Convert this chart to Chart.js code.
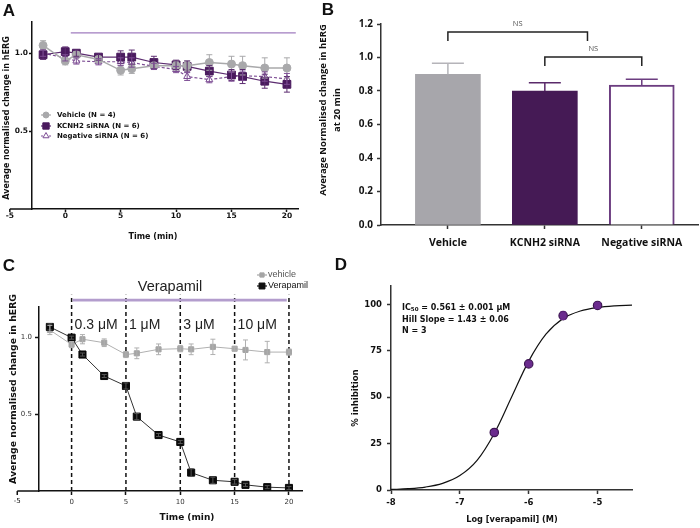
<!DOCTYPE html>
<html>
<head>
<meta charset="utf-8">
<title>hERG knockdown and verapamil block</title>
<script src="https://cdn.jsdelivr.net/npm/chart.js@4.4.1/dist/chart.umd.min.js"></script>
<style>
  body { margin: 0; background: #fff; }
  #fig { position: relative; width: 700px; height: 528px; overflow: hidden; }
  #fig canvas { position: absolute; left: 0; top: 0; }
</style>
</head>
<body>
<div id="fig">
  <canvas id="chartA" width="700" height="528"></canvas>
  <canvas id="chartB" width="700" height="528"></canvas>
  <canvas id="chartC" width="700" height="528"></canvas>
  <canvas id="chartD" width="700" height="528"></canvas>
</div>
<script>
// ---- panel A: siRNA time course ----
var timeA = [-2, 0, 1, 3, 5, 6, 8, 10, 11, 13, 15, 16, 18, 20];
var vehicleA = [1.05, 0.95, 0.99, 0.96, 0.89, 0.90, 0.92, 0.92, 0.92, 0.94, 0.93, 0.92, 0.905, 0.905];
var vehicleAErr = [0.03, 0.025, 0.02, 0.02, 0.03, 0.03, 0.02, 0.03, 0.03, 0.05, 0.05, 0.06, 0.065, 0.065];
var kcnh2A = [0.99, 1.01, 1.00, 0.975, 0.975, 0.975, 0.94, 0.925, 0.915, 0.885, 0.86, 0.85, 0.82, 0.80];
var kcnh2AErr = [0.03, 0.03, 0.02, 0.02, 0.04, 0.045, 0.04, 0.03, 0.035, 0.035, 0.035, 0.045, 0.045, 0.05];
var negativeA = [1.0, 0.97, 0.95, 0.945, 0.945, 0.94, 0.915, 0.895, 0.85, 0.83, 0.85, 0.855, 0.85, 0.835];
var negativeAErr = [0.02, 0.02, 0.02, 0.02, 0.025, 0.03, 0.02, 0.02, 0.025, 0.02, 0.03, 0.03, 0.03, 0.035];
var drugBarA = { from: 0.5, to: 20.8, y: 1.13 };

// ---- panel B: value at 20 min ----
var groupsB = ['Vehicle', 'KCNH2 siRNA', 'Negative siRNA'];
var meansB = [0.90, 0.80, 0.835];
var errB = [0.065, 0.05, 0.035];
var bracketsB = [
  { from: 0, to: 1.44, y: 1.152, leg: 1.098, label: 'NS' },
  { from: 1, to: 2, y: 1.003, leg: 0.95, label: 'NS' }
];

// ---- panel C: verapamil cumulative block ----
var timeC = [-2, 0, 1, 3, 5, 6, 8, 10, 11, 13, 15, 16, 18, 20];
var vehicleC = [1.05, 0.955, 0.99, 0.967, 0.89, 0.898, 0.924, 0.928, 0.924, 0.94, 0.928, 0.92, 0.906, 0.906];
var vehicleCErr = [0.03, 0.02, 0.03, 0.025, 0.02, 0.035, 0.035, 0.02, 0.035, 0.05, 0.01, 0.065, 0.07, 0.02];
var verapamilC = [1.07, 1.00, 0.89, 0.75, 0.685, 0.485, 0.365, 0.32, 0.12, 0.07, 0.06, 0.04, 0.025, 0.02];
var verapamilCErr = [0.02, 0.01, 0.01, 0.01, 0.02, 0.02, 0.01, 0.01, 0.025, 0.02, 0.015, 0.01, 0.01, 0.01];
var doseEdges = [0, 5, 10, 15, 20];
var doseLabels = ['0.3 \u03bcM', '1 \u03bcM', '3 \u03bcM', '10 \u03bcM'];
var drugBarC = { from: 0.1, to: 19.8, y: 1.245 };

// ---- panel D: concentration response ----
var logConc = [-6.5, -6, -5.5, -5];
var inhibition = [31, 68, 94, 99.5];
var inhibitionErr = [1, 1, 2, 1.5];
var fitX = [-8, -7.75, -7.5, -7.25, -7, -6.75, -6.5, -6.25, -6, -5.75, -5.5, -5.25, -5, -4.75, -4.5];
var fitY = [0.3, 0.7, 1.6, 3.6, 7.8, 16, 30.5, 50, 69.5, 84, 92.5, 96.5, 98.4, 99.3, 99.7];

var GP = '"DejaVu Sans"';
var ARIAL = '"Liberation Sans"';

function pts(xs, ys) {
  return xs.map(function (x, i) { return { x: x, y: ys[i] }; });
}

// padding that puts the plot area at L,T,R,B on the 700x528 page
function frame(L, T, R, B, yW, xH) {
  return { left: L - yW, top: T, right: 700 - R, bottom: 528 - B - xH };
}

function axis(o) {
  return {
    type: 'linear', min: o.min, max: o.max, offset: false,
    afterBuildTicks: function (s) { s.ticks = o.ticks.map(function (v) { return { value: v }; }); },
    afterFit: function (s) { if (s.isHorizontal()) s.height = o.size; else s.width = o.size; },
    border: { display: true, color: o.color, width: 1.5 },
    grid: { display: true, offset: false, drawOnChartArea: false, drawTicks: true, tickLength: o.tick, tickWidth: 1.5, tickColor: o.color },
    ticks: {
      autoSkip: false, maxRotation: 0, padding: o.pad, color: o.labelColor || o.color, font: o.font,
      callback: o.fmt || function (v) { return v; }
    }
  };
}

function baseOptions(padding, scales) {
  return {
    responsive: false,
    devicePixelRatio: 1,
    animation: false,
    layout: { padding: padding },
    plugins: { legend: { display: false }, tooltip: { enabled: false } },
    scales: scales
  };
}

// error bars from dataset.errors
var errorBars = {
  id: 'errorBars',
  afterDatasetsDraw: function (chart) {
    var ctx = chart.ctx;
    chart.data.datasets.forEach(function (ds, i) {
      if (!ds.errors) return;
      var meta = chart.getDatasetMeta(i);
      var ys = chart.scales[meta.yAxisID];
      ctx.save();
      ctx.lineWidth = ds.errorWidth || 1;
      meta.data.forEach(function (el, j) {
        var v = ds.data[j];
        v = typeof v === 'object' ? v.y : v;
        var e = ds.errors[j];
        var top = ys.getPixelForValue(v + e);
        var bot = ys.getPixelForValue(ds.upperOnly ? v : v - e);
        var c = ds.capWidth / 2;
        ctx.strokeStyle = Array.isArray(ds.errorColor) ? ds.errorColor[j] : ds.errorColor;
        ctx.beginPath();
        ctx.moveTo(el.x, top); ctx.lineTo(el.x, bot);
        ctx.moveTo(el.x - c, top); ctx.lineTo(el.x + c, top);
        if (!ds.upperOnly) { ctx.moveTo(el.x - c, bot); ctx.lineTo(el.x + c, bot); }
        ctx.stroke();
      });
      ctx.restore();
    });
  }
};

function textLayer(items) {
  return {
    id: 'textLayer',
    afterDraw: function (chart) {
      var ctx = chart.ctx;
      items.forEach(function (t) {
        ctx.save();
        ctx.font = t.font;
        ctx.fillStyle = t.color || '#111';
        ctx.textAlign = t.align || 'center';
        ctx.textBaseline = 'middle';
        ctx.translate(t.x, t.y);
        if (t.rotate) ctx.rotate(t.rotate * Math.PI / 180);
        ctx.fillText(t.text, 0, 0);
        ctx.restore();
      });
    }
  };
}

function marker(ctx, m, x, y) {
  ctx.fillStyle = m.fill;
  ctx.strokeStyle = m.stroke || m.fill;
  ctx.lineWidth = 1;
  Chart.helpers.drawPoint(ctx, { pointStyle: m.style, radius: m.r, borderWidth: 1, rotation: 0 }, x, y);
}

function legendLayer(mx, tx, font, entries) {
  return {
    id: 'legendLayer',
    afterDraw: function (chart) {
      var ctx = chart.ctx;
      entries.forEach(function (e) {
        ctx.save();
        ctx.strokeStyle = e.line;
        ctx.lineWidth = 1.2;
        ctx.setLineDash(e.dash || []);
        ctx.beginPath(); ctx.moveTo(mx - 5, e.y); ctx.lineTo(mx + 5, e.y); ctx.stroke();
        ctx.setLineDash([]);
        marker(ctx, e, mx, e.y);
        ctx.font = font;
        ctx.fillStyle = e.color || '#111';
        ctx.textAlign = 'left';
        ctx.textBaseline = 'middle';
        ctx.fillText(e.text, tx, e.y);
        ctx.restore();
      });
    }
  };
}

// x axis continues left of the y axis to -5
function axisStub(value, label, font, color, tick, pad) {
  return {
    id: 'axisStub',
    afterDraw: function (chart) {
      var xs = chart.scales.x, area = chart.chartArea, ctx = chart.ctx;
      var px = xs.getPixelForValue(value);
      ctx.save();
      ctx.strokeStyle = color; ctx.lineWidth = 1.5;
      ctx.beginPath();
      ctx.moveTo(px, area.bottom); ctx.lineTo(area.left, area.bottom);
      ctx.moveTo(px, area.bottom); ctx.lineTo(px, area.bottom + tick);
      ctx.stroke();
      ctx.font = font; ctx.fillStyle = color;
      ctx.textAlign = 'center'; ctx.textBaseline = 'top';
      ctx.fillText(label, px, area.bottom + tick + pad);
      ctx.restore();
    }
  };
}

function drugBar(bar, color, width) {
  return {
    id: 'drugBar',
    afterDraw: function (chart) {
      var xs = chart.scales.x, ys = chart.scales.y, ctx = chart.ctx;
      var py = ys.getPixelForValue(bar.y);
      ctx.save();
      ctx.strokeStyle = color; ctx.lineWidth = width;
      ctx.beginPath();
      ctx.moveTo(xs.getPixelForValue(bar.from), py);
      ctx.lineTo(xs.getPixelForValue(bar.to), py);
      ctx.stroke();
      ctx.restore();
    }
  };
}

// ================= A =================
new Chart(document.getElementById('chartA'), {
  type: 'line',
  data: {
    datasets: [
      {
        label: 'Vehicle (N = 4)', data: pts(timeA, vehicleA),
        borderColor: '#a9a9ab', backgroundColor: '#a9a9ab', borderWidth: 1.5,
        pointStyle: 'circle', pointRadius: 4, pointBorderWidth: 1,
        errors: vehicleAErr, errorColor: '#a9a9ab', capWidth: 6
      },
      {
        label: 'KCNH2 siRNA (N = 6)', data: pts(timeA, kcnh2A),
        borderColor: '#5c2c70', backgroundColor: '#4a1a5e', borderWidth: 1.2,
        pointStyle: 'rect', pointRadius: 5.5, pointBorderWidth: 1, pointBorderColor: '#4a1a5e',
        errors: kcnh2AErr, errorColor: '#5c2c70', capWidth: 6
      },
      {
        label: 'Negative siRNA (N = 6)', data: pts(timeA, negativeA),
        borderColor: '#7d4d94', backgroundColor: '#ffffff', borderWidth: 1.2, borderDash: [3, 2],
        pointStyle: 'triangle', pointRadius: 4, pointBorderWidth: 1, pointBorderColor: '#7d4d94',
        errors: negativeAErr, errorColor: '#7d4d94', capWidth: 6
      }
    ]
  },
  options: baseOptions(frame(32, 22, 298, 209, 31, 30), {
    x: axis({ min: -3, max: 21, ticks: [0, 5, 10, 15, 20], size: 30, color: '#111', tick: 3, pad: 0,
      font: { family: GP, weight: 'bold', size: 7.5 } }),
    y: axis({ min: 0, max: 1.2, ticks: [0.5, 1.0], size: 31, color: '#111', tick: 3, pad: 1,
      font: { family: GP, weight: 'bold', size: 7.5 }, fmt: function (v) { return v.toFixed(1); } })
  }),
  plugins: [
    errorBars,
    axisStub(-5, '-5', 'bold 7.5px ' + GP, '#111', 3, 0),
    drugBar(drugBarA, '#a07cbf', 1.4),
    legendLayer(46, 57, 'bold 7px ' + GP, [
      { y: 115, text: 'Vehicle (N = 4)', style: 'circle', r: 3, fill: '#a9a9ab', line: '#a9a9ab' },
      { y: 126, text: 'KCNH2 siRNA (N = 6)', style: 'rect', r: 4.5, fill: '#4a1a5e', line: '#5c2c70' },
      { y: 136, text: 'Negative siRNA (N = 6)', style: 'triangle', r: 3.5, fill: '#ffffff', stroke: '#7d4d94', line: '#7d4d94', dash: [2, 2] }
    ]),
    textLayer([
      { text: 'A', x: 9, y: 11, font: 'bold 17px ' + ARIAL },
      { text: 'Average normalised change in hERG', x: 7, y: 118, rotate: -90, font: 'bold 8px ' + GP },
      { text: 'Time (min)', x: 153, y: 237, font: 'bold 8px ' + GP }
    ])
  ]
});

// ================= B =================
var bracketLayer = {
  id: 'brackets',
  afterDraw: function (chart) {
    var xs = chart.scales.x, ys = chart.scales.y, ctx = chart.ctx;
    ctx.save();
    bracketsB.forEach(function (b) {
      var x1 = xs.getPixelForValue(b.from), x2 = xs.getPixelForValue(b.to);
      var y = ys.getPixelForValue(b.y), yl = ys.getPixelForValue(b.leg);
      ctx.strokeStyle = '#222'; ctx.lineWidth = 1.5;
      ctx.beginPath();
      ctx.moveTo(x1, yl); ctx.lineTo(x1, y); ctx.lineTo(x2, y); ctx.lineTo(x2, yl);
      ctx.stroke();
      ctx.font = '7.5px "Open Sans"'; ctx.fillStyle = '#555';
      ctx.textAlign = 'center'; ctx.textBaseline = 'middle';
      ctx.fillText(b.label, (x1 + x2) / 2, y - 8);
    });
    ctx.restore();
  }
};

new Chart(document.getElementById('chartB'), {
  type: 'bar',
  data: {
    datasets: [{
      data: pts([0, 1, 2], meansB),
      backgroundColor: ['#a7a6ab', '#451a55', '#ffffff'],
      borderColor: ['#a7a6ab', '#451a55', '#6c3d80'],
      borderWidth: [0, 0, 2],
      barThickness: 65,
      errors: errB, upperOnly: true, errorColor: ['#b5b4b9', '#5a2a6a', '#6c3d80'], errorWidth: 1.5, capWidth: 32
    }]
  },
  options: baseOptions(frame(381, 24, 698, 225, 40, 30), {
    x: axis({ min: -0.69, max: 2.58, ticks: [0, 1, 2], size: 30, color: '#333', labelColor: '#111', tick: 4, pad: 8,
      font: { family: 'Open Sans', weight: 'bold', size: 10.5 }, fmt: function (v) { return groupsB[v]; } }),
    y: axis({ min: 0, max: 1.2, ticks: [0, 0.2, 0.4, 0.6, 0.8, 1.0, 1.2], size: 40, color: '#333', labelColor: '#111', tick: 4, pad: 4,
      font: { family: 'Open Sans', weight: 'bold', size: 10 }, fmt: function (v) { return v.toFixed(1); } })
  }),
  plugins: [
    errorBars,
    bracketLayer,
    textLayer([
      { text: 'B', x: 328, y: 10, font: 'bold 17px ' + ARIAL },
      { text: 'Average Normalised change in hERG', x: 323, y: 110, rotate: -90, font: 'bold 9.5px "Open Sans"' },
      { text: 'at 20 min', x: 337, y: 110, rotate: -90, font: 'bold 9.5px "Open Sans"' }
    ])
  ]
});

// ================= C =================
var doseLayer = {
  id: 'doses',
  beforeDatasetsDraw: function (chart) {
    var xs = chart.scales.x, ys = chart.scales.y, ctx = chart.ctx;
    ctx.save();
    ctx.setLineDash([4, 3]);
    ctx.lineWidth = 1.5; ctx.strokeStyle = '#111';
    doseEdges.forEach(function (v) {
      var px = xs.getPixelForValue(v);
      ctx.beginPath();
      ctx.moveTo(px, ys.getPixelForValue(0));
      ctx.lineTo(px, ys.getPixelForValue(1.28));
      ctx.stroke();
    });
    ctx.setLineDash([]);
    ctx.font = '14px ' + ARIAL; ctx.fillStyle = '#222';
    ctx.textAlign = 'left'; ctx.textBaseline = 'middle';
    doseLabels.forEach(function (t, i) {
      ctx.fillText(t, xs.getPixelForValue(doseEdges[i]) + 3, ys.getPixelForValue(1.083));
    });
    ctx.restore();
  }
};

new Chart(document.getElementById('chartC'), {
  type: 'line',
  data: {
    datasets: [
      {
        label: 'Verapamil', data: pts(timeC, verapamilC),
        borderColor: '#333', backgroundColor: '#0a0a0a', borderWidth: 1,
        pointStyle: 'rect', pointRadius: 5, pointBorderWidth: 1, pointBorderColor: '#0a0a0a',
        errors: verapamilCErr, errorColor: '#555', capWidth: 5
      },
      {
        label: 'vehicle', data: pts(timeC, vehicleC),
        borderColor: '#b0b0b0', backgroundColor: '#a5a5a5', borderWidth: 1,
        pointStyle: 'rect', pointRadius: 3.6, pointBorderWidth: 1, pointBorderColor: '#a5a5a5',
        errors: vehicleCErr, errorColor: '#b0b0b0', capWidth: 5
      }
    ]
  },
  options: baseOptions(frame(39, 307, 302, 491, 35, 20), {
    x: axis({ min: -3, max: 21.2, ticks: [0, 5, 10, 15, 20], size: 20, color: '#111', labelColor: '#333', tick: 4, pad: 3,
      font: { family: GP, size: 7 } }),
    y: axis({ min: 0, max: 1.2, ticks: [0.5, 1.0], size: 35, color: '#111', labelColor: '#333', tick: 4, pad: 3,
      font: { family: GP, size: 7 }, fmt: function (v) { return v.toFixed(1); } })
  }),
  plugins: [
    doseLayer,
    errorBars,
    axisStub(-5, '-5', '7px ' + GP, '#111', 4, 3),
    drugBar(drugBarC, '#b39dcd', 2.6),
    legendLayer(262, 268, '9px ' + ARIAL, [
      { y: 275, text: 'vehicle', style: 'rect', r: 3, fill: '#a5a5a5', line: '#a5a5a5', color: '#555' },
      { y: 286, text: 'Verapamil', style: 'rect', r: 4.2, fill: '#111', line: '#111', color: '#111' }
    ]),
    textLayer([
      { text: 'C', x: 9, y: 266, font: 'bold 17px ' + ARIAL },
      { text: 'Verapamil', x: 170, y: 287, font: '14.5px ' + ARIAL, color: '#222' },
      { text: 'Average normalised change in hERG', x: 14, y: 389, rotate: -90, font: 'bold 9.3px ' + GP },
      { text: 'Time (min)', x: 187, y: 518, font: 'bold 9px ' + GP }
    ])
  ]
});

// ================= D =================
var ic50Layer = {
  id: 'ic50',
  afterDraw: function (chart) {
    var ctx = chart.ctx, x = 402;
    ctx.save();
    ctx.fillStyle = '#111'; ctx.textAlign = 'left'; ctx.textBaseline = 'middle';
    ctx.font = 'bold 8px ' + GP;
    ctx.fillText('IC', x, 308);
    var w = ctx.measureText('IC').width;
    ctx.font = 'bold 5.5px ' + GP;
    ctx.fillText('50', x + w, 310);
    var w2 = ctx.measureText('50').width;
    ctx.font = 'bold 8px ' + GP;
    ctx.fillText(' = 0.561 \u00b1 0.001 \u03bcM', x + w + w2, 308);
    ctx.fillText('Hill Slope = 1.43 \u00b1 0.06', x, 320);
    ctx.fillText('N = 3', x, 331);
    ctx.restore();
  }
};

new Chart(document.getElementById('chartD'), {
  type: 'scatter',
  data: {
    datasets: [
      {
        label: 'Verapamil', data: pts(logConc, inhibition),
        backgroundColor: '#6b2c8e', borderColor: '#3d1553', pointRadius: 4.2, pointBorderWidth: 1.2,
        errors: inhibitionErr, errorColor: '#6b2c8e', capWidth: 6
      },
      {
        label: 'fit', data: pts(fitX, fitY), showLine: true, tension: 0.35,
        borderColor: '#111', borderWidth: 1.2, pointRadius: 0
      }
    ]
  },
  options: baseOptions(frame(391, 286, 632, 490, 36, 20), {
    x: axis({ min: -8, max: -4.5, ticks: [-8, -7, -6, -5], size: 20, color: '#333', labelColor: '#111', tick: 4, pad: 4,
      font: { family: GP, weight: 'bold', size: 8.5 } }),
    y: axis({ min: 0, max: 110, ticks: [0, 25, 50, 75, 100], size: 36, color: '#333', labelColor: '#111', tick: 4, pad: 5,
      font: { family: GP, weight: 'bold', size: 8.5 } })
  }),
  plugins: [
    errorBars,
    ic50Layer,
    textLayer([
      { text: 'D', x: 341, y: 265, font: 'bold 17px ' + ARIAL },
      { text: '% inhibition', x: 356, y: 398, rotate: -90, font: 'bold 8.5px ' + GP },
      { text: 'Log [verapamil] (M)', x: 512, y: 520, font: 'bold 8.2px ' + GP }
    ])
  ]
});
</script>
</body>
</html>
